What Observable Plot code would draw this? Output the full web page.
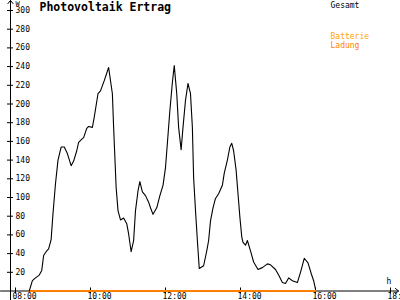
<!DOCTYPE html>
<html><head><meta charset="utf-8">
<script src="https://cdn.jsdelivr.net/npm/d3@7"></script>
<script src="https://cdn.jsdelivr.net/npm/@observablehq/plot@0.6"></script>
<style>html,body{margin:0;padding:0;background:#fff} svg{display:block}</style>
</head><body><div id="chart"></div>
<script>
const title = "Photovoltaik Ertrag";
const yUnit = "W";
const xUnit = "h";
const seriesNames = ["Gesamt", "Batterie", "Ladung"];
const seriesColors = ["#000000", "#ffa500", "#ff8000"];
const times = ["08:22","08:27","08:32","08:38","08:42","08:45","08:50","08:53","08:57","09:00",
  "09:04","09:08","09:13","09:18","09:23","09:29","09:33","09:38","09:41","09:47",
  "09:49","09:54","09:57","10:03","10:06","10:12","10:16","10:22","10:29","10:35",
  "10:37","10:41","10:44","10:48","10:53","10:58","11:01","11:05","11:09","11:12",
  "11:16","11:19","11:23","11:28","11:33","11:36","11:40","11:46","11:51","11:56",
  "12:00","12:03","12:07","12:11","12:14","12:18","12:21","12:25","12:28","12:32",
  "12:36","12:40","12:43","12:45","12:48","12:51","12:54","13:01","13:06","13:09",
  "13:12","13:16","13:20","13:25","13:31","13:34","13:39","13:43","13:46","13:49",
  "13:53","13:56","13:59","14:02","14:04","14:08","14:11","14:16","14:21","14:28",
  "14:35","14:43","14:48","14:56","15:01","15:07","15:12","15:17","15:23","15:31",
  "15:36","15:42","15:48","15:53","15:57","16:00"];
const gesamt = [0,11,14,17,22,38,43,45,55,83,
  115,140,154,154,147,134,139,150,159,163,
  164,174,176,175,186,211,214,225,239,211,
  175,111,86,76,78,72,61,42,54,86,
  107,117,106,102,95,89,82,89,102,113,
  132,158,193,223,241,211,175,151,175,204,
  222,211,175,121,86,54,24,27,43,54,
  75,89,99,104,113,126,140,154,158,150,
  129,104,79,58,52,49,54,43,31,23,
  25,29,28,23,17,9,8,14,11,9,
  20,35,30,19,11,2];
const ladungTimes = ["08:22", "16:00"];
const ladung = [0, 0];
const xTickLabels = ["08:00","10:00","12:00","14:00","16:00","18:00"];
const yTicks = [20,40,60,80,100,120,140,160,180,200,220,240,260,280,300];

const T = s => { const [h, m] = s.split(":").map(Number); return new Date(Date.UTC(2024, 0, 1) + (h * 60 + m) * 60000); };
const Tm = min => new Date(Date.UTC(2024, 0, 1) + min * 60000);

const data = times.map((t, i) => ({t: T(t), v: gesamt[i]}));
const ladData = ladungTimes.map((t, i) => ({t: T(t), v: ladung[i]}));
const xTicks = xTickLabels.map(T);

const x0 = Tm(7 * 60 + 52), x1 = Tm(18 * 60 + 12.8);
const tickL = Tm(7 * 60 + 47.2), tickR = Tm(7 * 60 + 56.8);
const fmt = d3.utcFormat("%H:%M");
const font = "DejaVu Sans Mono";

const plot = Plot.plot({
  width: 400, height: 300,
  marginTop: 10, marginBottom: 9.5, marginLeft: 10, marginRight: 2,
  style: {fontFamily: font, fontSize: "8px", background: "#fff", overflow: "visible", color: "#000"},
  x: {type: "utc", domain: [x0, x1], axis: null},
  y: {domain: [0, 300], axis: null},
  marks: [
    Plot.arrow([{xa: Tm(7 * 60 + 36), xb: x1, y: 0}], {x1: "xa", x2: "xb", y1: "y", y2: "y", stroke: "#000", strokeWidth: 1, headLength: 6, headAngle: 80}),
    Plot.arrow([{x: x0, ya: -10.2, yb: 310.7}], {x1: "x", x2: "x", y1: "ya", y2: "yb", stroke: "#000", strokeWidth: 1, headLength: 6, headAngle: 80}),
    Plot.ruleY(yTicks, {y: d => d, x1: () => tickL, x2: () => tickR, stroke: "#000"}),
    Plot.text(yTicks, {x: () => x0, y: d => d, text: d => String(d), dx: 5, textAnchor: "start", lineAnchor: "middle", fontSize: 8, fill: "#000"}),
    Plot.ruleX(xTicks, {x: d => d, y1: () => 3.21, y2: () => -3.21, stroke: "#000"}),
    Plot.text(xTicks, {x: d => d, y: () => 0, text: d => fmt(d), dx: -3, dy: 2.5, textAnchor: "start", lineAnchor: "top", fontSize: 8, fill: "#000"}),
    Plot.line(ladData, {x: "t", y: "v", stroke: seriesColors[2], strokeWidth: 2}),
    Plot.line(data, {x: "t", y: "v", stroke: seriesColors[0], strokeWidth: 1.1}),
    Plot.text([title], {frameAnchor: "top-left", text: d => d, dx: 29, dy: -3, fontWeight: "bold", fontSize: 11.5, textAnchor: "start", lineAnchor: "middle", fill: "#000"}),
    Plot.text([yUnit], {frameAnchor: "top-left", text: d => d, dx: 5, dy: -6.5, fontSize: 7, textAnchor: "start", lineAnchor: "middle", fill: "#000"}),
    Plot.text([xUnit], {frameAnchor: "bottom-right", text: d => d, dx: -12, dy: -10, fontSize: 8, textAnchor: "start", lineAnchor: "middle", fill: "#000"}),
    Plot.text([seriesNames[0]], {frameAnchor: "top-left", text: d => d, dx: 320, dy: -5.5, fontSize: 8, textAnchor: "start", lineAnchor: "middle", fill: seriesColors[0]}),
    Plot.text([seriesNames[1]], {frameAnchor: "top-left", text: d => d, dx: 320, dy: 25.5, fontSize: 8, textAnchor: "start", lineAnchor: "middle", fill: seriesColors[1]}),
    Plot.text([seriesNames[2]], {frameAnchor: "top-left", text: d => d, dx: 320, dy: 34.5, fontSize: 8, textAnchor: "start", lineAnchor: "middle", fill: seriesColors[2]})
  ]
});
document.getElementById("chart").appendChild(plot);
</script>
</body></html>
